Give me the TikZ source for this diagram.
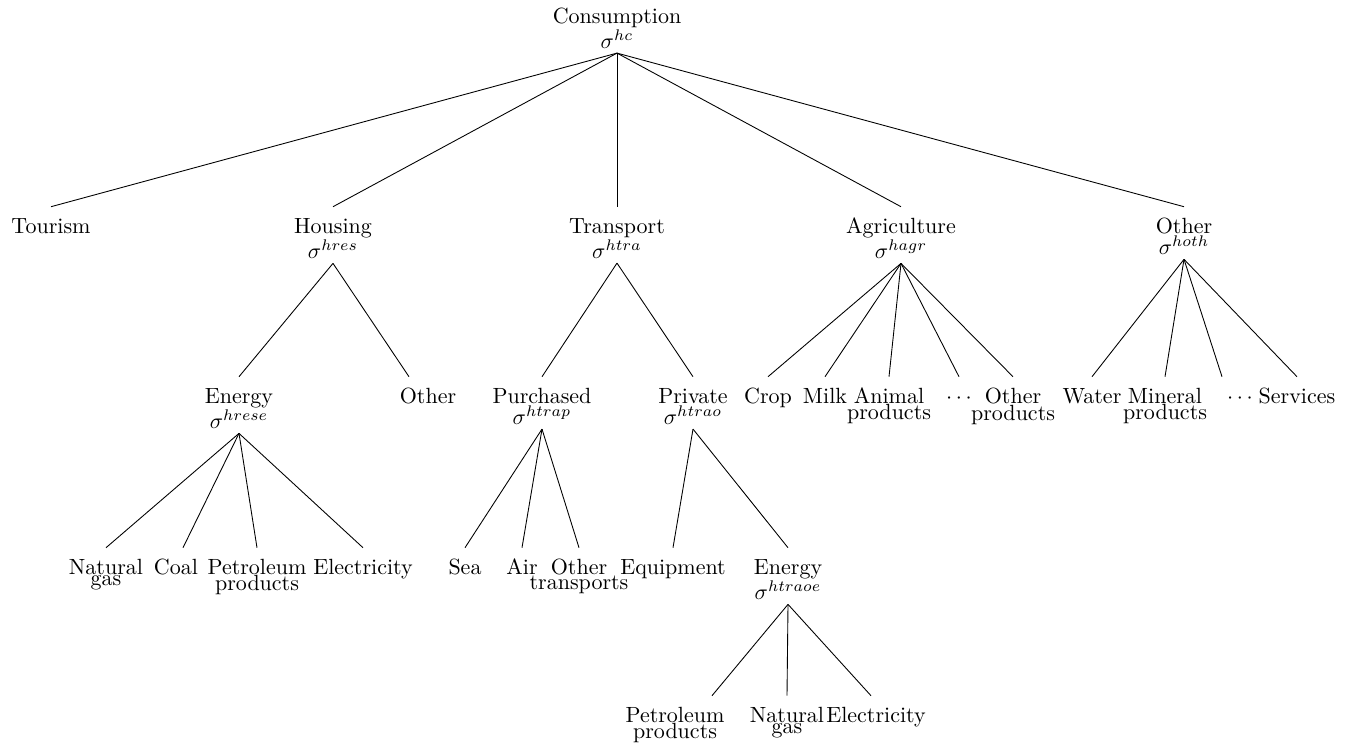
\documentclass[tikz,border=0pt]{standalone}
\usetikzlibrary{calc}
\usetikzlibrary{positioning}
\newcommand{\twol}[2]{\vtop{\baselineskip=0pt\lineskip=0.6pt\lineskiplimit=0pt\halign{\hfil##\hfil\cr#1\cr#2\cr}}}
\begin{document}
\begin{tikzpicture}[x=0.4545pt,y=-0.4545pt,item/.style={anchor=base,inner xsep=0pt,inner ysep=0.25pt,text height=11.5pt},sig/.style={inner xsep=0pt,inner ysep=0.4pt,text depth=1.6pt},branch/.style={draw}]
  \useasboundingbox (0,0) rectangle (1354,749);
  % level 0
  \node[item] (n1) at (617,23) {Consumption};
  \node[sig,below=0pt of n1] (n1s) {$\sigma^{hc}$};
  % level 1
  \node[item] (n2) at (51,233) {Tourism};
  \node[item] (n3) at (333,233) {Housing};
  \node[sig,below=0pt of n3] (n3s) {$\sigma^{hres}$};
  \node[item] (n4) at (617,233) {Transport};
  \node[sig,below=0pt of n4] (n4s) {$\sigma^{htra}$};
  \node[item] (n5) at (901,233) {Agriculture};
  \node[sig,below=0pt of n5] (n5s) {$\sigma^{hagr}$};
  \node[item] (n6) at (1184,233) {Other};
  \node[sig,below=0pt of n6] (n6s) {$\sigma^{hoth}$};
  % level 2
  \node[item] (n7) at (239,403) {Energy};
  \node[sig,below=0pt of n7] (n7s) {$\sigma^{hrese}$};
  \node[item] (n8) at (428,403) {Other};
  \node[item] (n9) at (542,403) {Purchased};
  \node[sig,below=0pt of n9] (n9s) {$\sigma^{htrap}$};
  \node[item] (n10) at (693,403) {Private};
  \node[sig,below=0pt of n10] (n10s) {$\sigma^{htrao}$};
  \node[item] (n11) at (768,403) {Crop};
  \node[item] (n12) at (825,403) {Milk};
  \node[item] (n13) at (889,403) {\twol{Animal}{products}};
  \node[item] (n14) at (959,403) {$\cdots$};
  \node[item] (n15) at (1013,403) {\twol{Other}{products}};
  \node[item] (n16) at (1092,403) {Water};
  \node[item] (n17) at (1165,403) {\twol{Mineral}{products}};
  \node[item] (n18) at (1240,403) {$\cdots$};
  \node[item] (n19) at (1297,403) {Services};
  % level 3
  \node[item] (n20) at (106,574) {\twol{Natural}{gas}};
  \node[item] (n21) at (176,574) {Coal};
  \node[item] (n22) at (257,574) {\twol{Petroleum}{products}};
  \node[item] (n23) at (363,574) {Electricity};
  \node[item] (n24) at (465,574) {Sea};
  \node[item] (n25) at (522,574) {Air};
  \node[item] (n26) at (579,574) {\twol{Other}{transports}};
  \node[item] (n27) at (673,574) {Equipment};
  \node[item] (n28) at (788,574) {Energy};
  \node[sig,below=0pt of n28] (n28s) {$\sigma^{htraoe}$};
  % level 4
  \node[item] (n29) at (675,722) {\twol{Petroleum}{products}};
  \node[item] (n30) at (787,722) {\twol{Natural}{gas}};
  \node[item] (n31) at (876,722) {Electricity};
  % branches
  \path[branch] (n1s.south) -- (n2.north);
  \path[branch] (n1s.south) -- (n3.north);
  \path[branch] (n1s.south) -- (n4.north);
  \path[branch] (n1s.south) -- (n5.north);
  \path[branch] (n1s.south) -- (n6.north);
  \path[branch] (n3s.south) -- (n7.north);
  \path[branch] (n3s.south) -- ($(n8.north)+(-19,0)$);
  \path[branch] (n4s.south) -- (n9.north);
  \path[branch] (n4s.south) -- (n10.north);
  \path[branch] (n5s.south) -- (n11.north);
  \path[branch] (n5s.south) -- (n12.north);
  \path[branch] (n5s.south) -- (n13.north);
  \path[branch] (n5s.south) -- (n14.north);
  \path[branch] (n5s.south) -- (n15.north);
  \path[branch] (n6s.south) -- (n16.north);
  \path[branch] (n6s.south) -- (n17.north);
  \path[branch] (n6s.south) -- ($(n18.north)+(-18,0)$);
  \path[branch] (n6s.south) -- (n19.north);
  \path[branch] (n7s.south) -- (n20.north);
  \path[branch] (n7s.south) -- ($(n21.north)+(7,0)$);
  \path[branch] (n7s.south) -- (n22.north);
  \path[branch] (n7s.south) -- (n23.north);
  \path[branch] (n9s.south) -- (n24.north);
  \path[branch] (n9s.south) -- (n25.north);
  \path[branch] (n9s.south) -- (n26.north);
  \path[branch] (n10s.south) -- (n27.north);
  \path[branch] (n10s.south) -- (n28.north);
  \path[branch] (n28s.south) -- ($(n29.north)+(37,0)$);
  \path[branch] (n28s.south) -- (n30.north);
  \path[branch] (n28s.south) -- ($(n31.north)+(-5,0)$);
\end{tikzpicture}
\end{document}
